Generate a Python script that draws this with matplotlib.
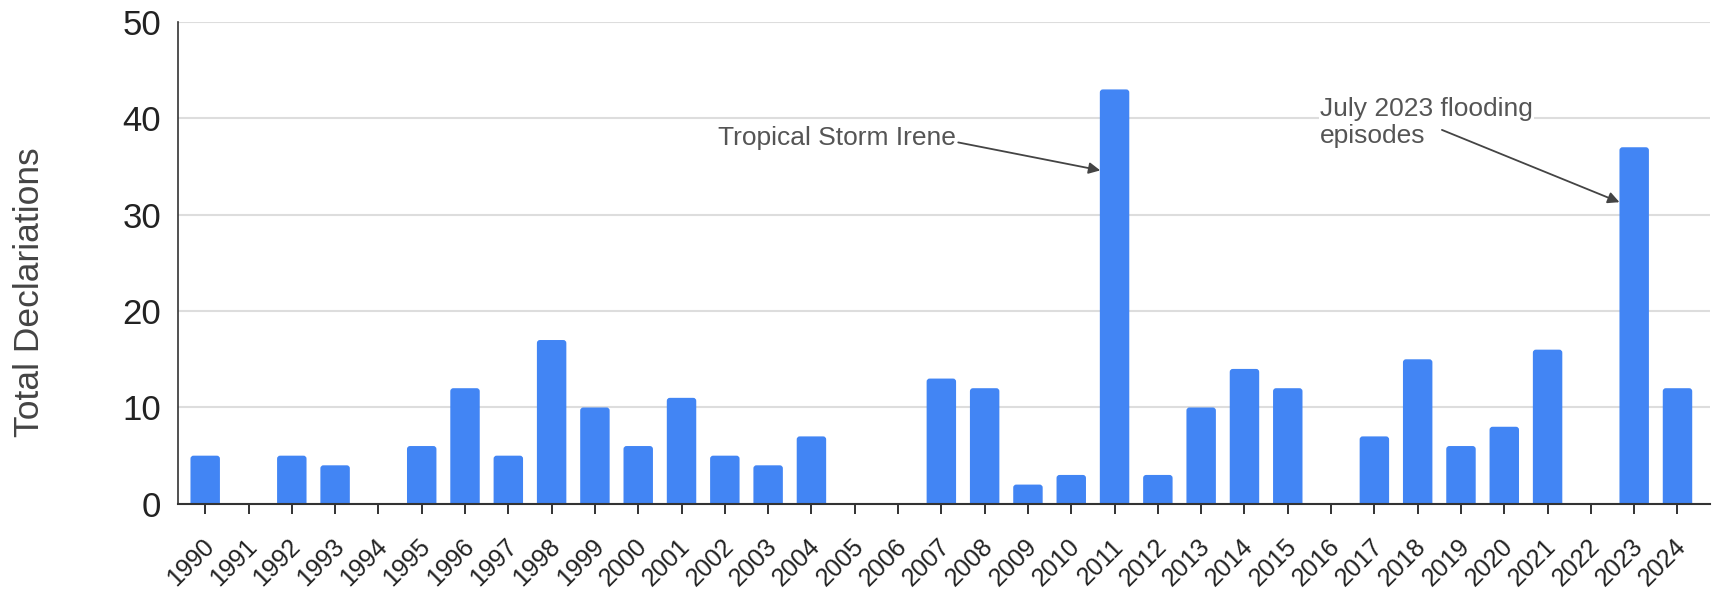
import numpy as np
import matplotlib.pyplot as plt
import matplotlib.transforms as mtransforms
from matplotlib.patches import FancyBboxPatch

plt.rcParams['font.family'] = ['Liberation Sans', 'DejaVu Sans']

years = [str(y) for y in range(1990, 2025)]
declarations = [5, 0, 5, 4, 0, 6, 12, 5, 17, 10, 6, 11, 5, 4, 7, 0, 0, 13, 12, 2,
                3, 43, 3, 10, 14, 12, 0, 7, 15, 6, 8, 16, 0, 37, 12]
y_ticks = [0, 10, 20, 30, 40, 50]

bar_color = '#4285F4'

fig = plt.figure(figsize=(17.19, 6.10), dpi=100)
ax = fig.add_axes([0.1035, 0.174, 0.8915, 0.790])

x = np.arange(len(years))
bars = ax.bar(x, declarations, width=0.68, color=bar_color, zorder=3)

ax.set_xlim(-0.63, len(years) - 0.24)
ax.set_ylim(0, 50)

# swap plain rectangles for ones with slightly rounded tops
for b in bars:
    h = b.get_height()
    b.set_visible(False)
    if h <= 0:
        continue
    p = FancyBboxPatch((b.get_x(), -1), b.get_width(), h + 1,
                       boxstyle='round,pad=0,rounding_size=0.07',
                       mutation_aspect=4.5, fc=bar_color, ec='none', zorder=3)
    ax.add_patch(p)

ax.set_yticks(y_ticks)
ax.set_xticks(x)
ax.tick_params(axis='y', length=0, labelsize=25, pad=12, colors='#222222')
ax.tick_params(axis='x', length=7, width=1.3, color='#222222', labelcolor='#222222', pad=6)
ax.set_xticklabels(years, rotation=45, ha='right', va='center',
                   rotation_mode='anchor', fontsize=18)
# nudge slanted year labels down/right (after tick_params, which resets transforms)
shift = mtransforms.ScaledTranslation(0.05, -0.21, fig.dpi_scale_trans)
for lbl in ax.get_xticklabels():
    lbl.set_transform(lbl.get_transform() + shift)

ax.grid(axis='y', color='#dddddd', linewidth=1.5, zorder=0)
for s in ['top', 'right']:
    ax.spines[s].set_visible(False)
ax.spines['left'].set_color('#333333')
ax.spines['bottom'].set_color('#333333')
ax.spines['left'].set_linewidth(1.2)
ax.spines['bottom'].set_linewidth(1.5)
ax.spines['bottom'].set_zorder(4)

ax.set_ylabel('Total Declariations', fontsize=25.5, color='#444444')
ax.yaxis.set_label_coords(-0.086, 0.44)

# annotations: text with white backing, arrows drawn on top
box = dict(boxstyle='square,pad=0.05', fc='white', ec='none')
ax.text(11.85, 37.2, 'Tropical Storm Irene', fontsize=19, color='#555555',
        ha='left', va='baseline', bbox=box, zorder=5)
ax.text(25.75, 42.2, 'July 2023 flooding\nepisodes', fontsize=19, color='#555555',
        ha='left', va='top', linespacing=1.15, bbox=box, zorder=5)

arrow = dict(arrowstyle='-|>', color='#444444', lw=1.3, mutation_scale=17,
             shrinkA=0, shrinkB=0)
ax.annotate('', xy=(20.67, 34.6), xytext=(17.39, 37.5), arrowprops=arrow, zorder=6)
ax.annotate('', xy=(32.66, 31.3), xytext=(28.56, 38.8), arrowprops=arrow, zorder=6)

fig.savefig('out.png', dpi=100)
